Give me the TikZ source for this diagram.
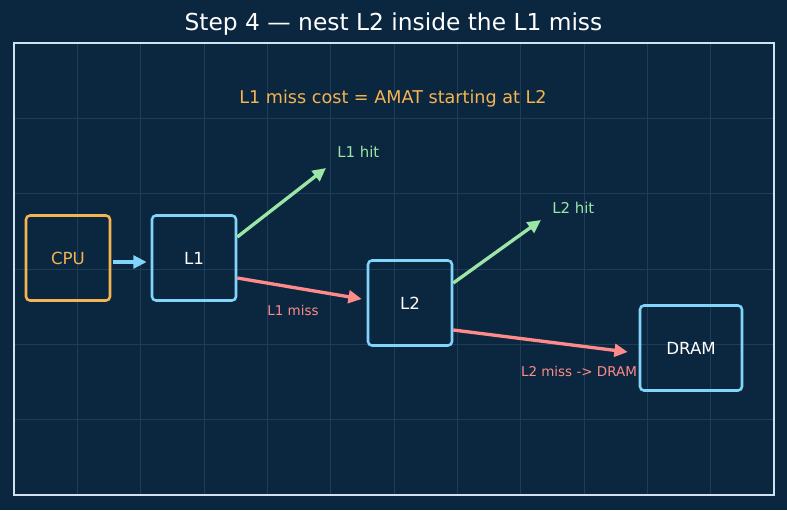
\documentclass[tikz,border=0pt]{standalone}
\usepackage{fontspec}
\setmainfont{DejaVu Sans}
\usepackage{xcolor}
\usetikzlibrary{arrows.meta}

\definecolor{bgnavy}{HTML}{0B2740}
\definecolor{gridline}{HTML}{1D3D59}
\definecolor{framec}{HTML}{CFE2F0}
\definecolor{cpuorange}{HTML}{F5B452}
\definecolor{cacheblue}{HTML}{81D4FA}
\definecolor{hitgreen}{HTML}{9BE6A6}
\definecolor{missred}{HTML}{FF8A8A}

\begin{document}
\begin{tikzpicture}[x=0.75pt, y=-0.75pt,
  box/.style={draw, line width=1.9pt, rounded corners=3pt, minimum width=63pt,
    minimum height=63.75pt, inner sep=0pt, font=\fontsize{12.5}{14}\selectfont},
  flow/.style={line width=2.5pt, -{Triangle[length=10pt,width=9.5pt]}},
  hitlbl/.style={inner sep=0pt, anchor=west, text=hitgreen, font=\fontsize{11.2}{13}\selectfont},
  misslbl/.style={inner sep=0pt, text=missred, font=\fontsize{10.1}{12}\selectfont}]
  % Background, grid and frame
  \fill[bgnavy] (0,0) rectangle (787,510);
  \useasboundingbox (0,0) rectangle (787,510);
  \foreach \i in {1,...,11}
    \draw[gridline, line width=0.6pt] ({14+\i*63.333},43) -- ({14+\i*63.333},495);
  \foreach \j in {1,...,5}
    \draw[gridline, line width=0.6pt] (14,{43+\j*75.333}) -- (774,{43+\j*75.333});
  \draw[framec, line width=1.1pt] (14,43) rectangle (774,495);

  % Title and note
  \node[text=white, font=\fontsize{17.5}{20}\selectfont] (title) at (393.5,24) {Step 4 — nest L2 inside the L1 miss};
  \node[text=cpuorange, font=\fontsize{13.2}{15}\selectfont] (note) at (393,99) {L1 miss cost = AMAT starting at L2};

  % Boxes
  \node[box, cpuorange, text=cpuorange] (cpu) at (68,258) {CPU};
  \node[box, cacheblue, text=white] (l1) at (194,258) {L1};
  \node[box, cacheblue, text=white] (l2) at (410,303) {L2};
  \node[box, cacheblue, text=white, minimum width=76.5pt] (dram) at (691,348) {DRAM};

  % CPU to L1
  \draw[flow, cacheblue, shorten <=1.5pt] ([yshift=-3pt]cpu.east) -- ([yshift=-3pt, xshift=-3pt]l1.west);

  % L1 hit / miss
  \coordinate (l1hit) at (326,168);
  \draw[flow, hitgreen] ([yshift=15.75pt]l1.east) -- (l1hit);
  \node[hitlbl] (l1hitlbl) at (337,152) {L1 hit};
  \draw[flow, missred] ([yshift=-15pt]l1.east) -- ([yshift=3pt, xshift=-3.75pt]l2.west);
  \node[misslbl] (l1misslbl) at (293,310) {L1 miss};

  % L2 hit / miss
  \coordinate (l2hit) at (541,220);
  \draw[flow, hitgreen] ([yshift=15pt]l2.east) -- (l2hit);
  \node[hitlbl] (l2hitlbl) at (552,208) {L2 hit};
  \draw[flow, missred] ([yshift=-20.25pt]l2.east) -- ([yshift=-3pt, xshift=-8.25pt]dram.west);
  \node[misslbl] (l2misslbl) at (579,371) {L2 miss -> DRAM};
\end{tikzpicture}
\end{document}
